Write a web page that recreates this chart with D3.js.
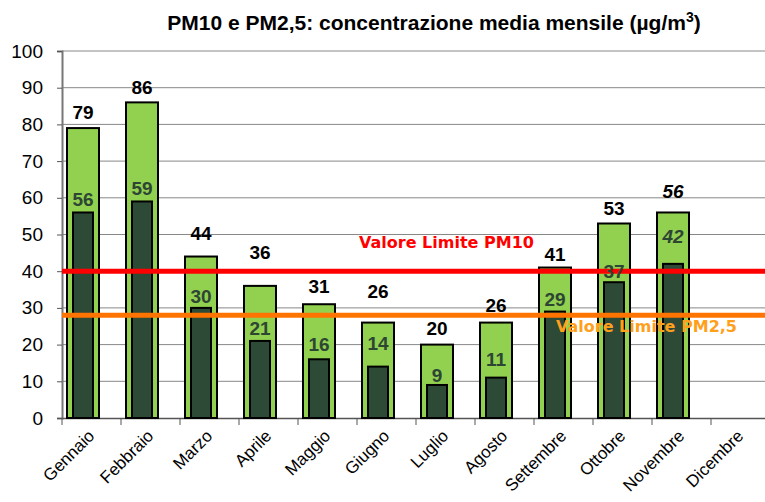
<!DOCTYPE html>
<html>
<head>
<meta charset="utf-8">
<script src="https://cdn.jsdelivr.net/npm/d3@7"></script>
<style>
  body { margin: 0; background: #fff; }
  svg { display: block; font-family: "Liberation Sans", Arial, sans-serif; }
</style>
</head>
<body>
<svg width="765" height="502"></svg>
<script>
var months = ["Gennaio", "Febbraio", "Marzo", "Aprile", "Maggio", "Giugno", "Luglio",
              "Agosto", "Settembre", "Ottobre", "Novembre", "Dicembre"];
var pm10 = [79, 86, 44, 36, 31, 26, 20, 26, 41, 53, 56, null];
var pm25 = [56, 59, 30, 21, 16, 14, 9, 11, 29, 37, 42, null];
var italicMonths = ["Novembre"]; // dato provvisorio
var limitPM10 = 40, limitPM25 = 28;
var yTicks = [0, 10, 20, 30, 40, 50, 60, 70, 80, 90, 100];

// distanza (px) fra cima della barra e base dell'etichetta, messa a mano come nell'originale
var gap10 = [9, 8, 17, 27, 11, 25, 10, 11, 7, 8, 14, 0];
var gap25 = [6, 6, 5, 6, 8, 17, 3, 12, 6, 4, 21, 0];

var svg = d3.select("svg"),
    mLeft = 62, mRight = 770, mTop = 51, mBottom = 418;

var x = d3.scaleBand().domain(months).range([mLeft, mRight]);
var y = d3.scaleLinear().domain([0, 100]).range([mBottom, mTop]);

var data = months.map(function(m, i) {
    return {month: m, pm10: pm10[i], pm25: pm25[i], g10: gap10[i], g25: gap25[i]};
});

// title
var title = svg.append("text")
    .attr("x", 434).attr("y", 30)
    .attr("text-anchor", "middle")
    .style("font-size", "21px").style("font-weight", "bold");
title.append("tspan").text("PM10 e PM2,5: concentrazione media mensile (µg/m");
title.append("tspan").attr("dy", -8).style("font-size", "14px").text("3");
title.append("tspan").attr("dy", 8).text(")");

// grid
svg.append("g").selectAll("line")
    .data(yTicks.filter(function(d) { return d > 0; }))
    .enter().append("line")
    .attr("x1", mLeft).attr("x2", 765)
    .attr("y1", function(d) { return y(d); })
    .attr("y2", function(d) { return y(d); })
    .attr("stroke", "#888").attr("stroke-width", 1);

// y axis
var yAxis = svg.append("g")
    .attr("transform", "translate(" + mLeft + ",0)")
    .call(d3.axisLeft(y).tickValues(yTicks).tickSize(5).tickPadding(14));
yAxis.select(".domain").attr("stroke", "#777").attr("stroke-width", 2);
yAxis.selectAll(".tick line").attr("stroke", "#555");
yAxis.selectAll(".tick text")
    .style("font-size", "19px").style("font-family", "Liberation Sans, Arial, sans-serif")
    .attr("fill", "#000");

// x axis
var xAxis = svg.append("g")
    .attr("transform", "translate(0," + mBottom + ")")
    .call(d3.axisBottom(x).tickSize(0).tickFormat(""));
xAxis.select(".domain").attr("stroke", "#555").attr("stroke-width", 1.5);
xAxis.selectAll(".tick").remove();
svg.append("g").selectAll("line")
    .data(months)
    .enter().append("line")
    .attr("x1", function(d) { return x(d); })
    .attr("x2", function(d) { return x(d); })
    .attr("y1", mBottom).attr("y2", mBottom + 7)
    .attr("stroke", "#555");

svg.append("g").selectAll("text")
    .data(months)
    .enter().append("text")
    .attr("text-anchor", "end")
    .attr("transform", function(d) {
        return "translate(" + (x(d) + x.bandwidth() / 2 + 4) + "," + (mBottom + 19) + ") rotate(-45)";
    })
    .style("font-size", "17px")
    .text(function(d) { return d; });

// bars
var valid = data.filter(function(d) { return d.pm10 != null; });

svg.append("g").selectAll("rect")
    .data(valid)
    .enter().append("rect")
    .attr("x", function(d) { return x(d.month) + 5; })
    .attr("y", function(d) { return y(d.pm10); })
    .attr("width", 32)
    .attr("height", function(d) { return y(0) - y(d.pm10); })
    .attr("fill", "#92d050").attr("stroke", "#000").attr("stroke-width", 2);

svg.append("g").selectAll("rect")
    .data(valid)
    .enter().append("rect")
    .attr("x", function(d) { return x(d.month) + 11; })
    .attr("y", function(d) { return y(d.pm25); })
    .attr("width", 20)
    .attr("height", function(d) { return y(0) - y(d.pm25); })
    .attr("fill", "#2d4a37").attr("stroke", "#000").attr("stroke-width", 2);

// limit lines
svg.append("line")
    .attr("x1", mLeft).attr("x2", 765)
    .attr("y1", y(limitPM10)).attr("y2", y(limitPM10))
    .attr("stroke", "#ff0000").attr("stroke-width", 5);
svg.append("line")
    .attr("x1", mLeft).attr("x2", 765)
    .attr("y1", y(limitPM25)).attr("y2", y(limitPM25))
    .attr("stroke", "#ff7300").attr("stroke-width", 5);

// labels
function isItalic(d) { return italicMonths.indexOf(d.month) >= 0 ? "italic" : "normal"; }

svg.append("g").selectAll("text")
    .data(valid)
    .enter().append("text")
    .attr("x", function(d) { return x(d.month) + 21; })
    .attr("y", function(d) { return y(d.pm10) - d.g10; })
    .attr("text-anchor", "middle")
    .style("font-size", "19px").style("font-weight", "bold")
    .style("font-style", isItalic)
    .text(function(d) { return d.pm10; });

svg.append("g").selectAll("text")
    .data(valid)
    .enter().append("text")
    .attr("x", function(d) { return x(d.month) + 21; })
    .attr("y", function(d) { return y(d.pm25) - d.g25; })
    .attr("text-anchor", "middle")
    .attr("fill", "#2d4634")
    .style("font-size", "19px").style("font-weight", "bold")
    .style("font-style", isItalic)
    .text(function(d) { return d.pm25; });

svg.append("text")
    .attr("x", 359).attr("y", 248)
    .attr("fill", "#ff0000")
    .style("font-family", "DejaVu Sans, Verdana, sans-serif")
    .style("font-size", "16px").style("font-weight", "bold")
    .text("Valore Limite PM10");
svg.append("text")
    .attr("x", 556).attr("y", 332)
    .attr("fill", "#ffa01c")
    .style("font-family", "DejaVu Sans, Verdana, sans-serif")
    .style("font-size", "16px").style("font-weight", "bold")
    .text("Valore Limite PM2,5");
</script>
</body>
</html>
